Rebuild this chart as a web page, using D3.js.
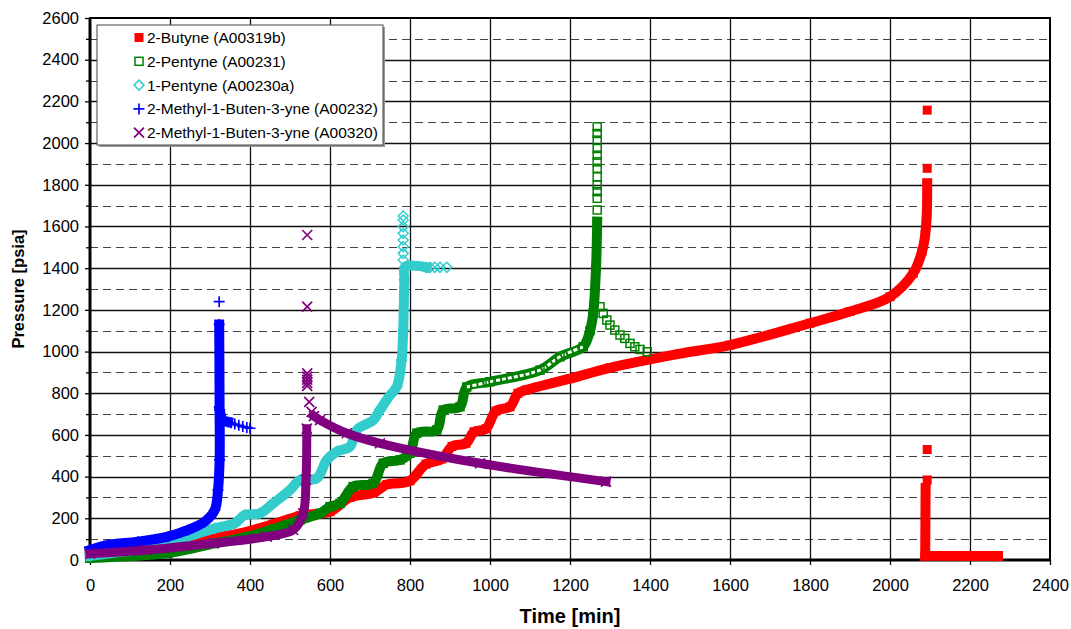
<!DOCTYPE html>
<html>
<head>
<meta charset="utf-8">
<script src="https://cdn.jsdelivr.net/npm/d3@7"></script>
<style>
  body { margin: 0; background: #fff; }
  svg { display: block; font-family: "Liberation Sans", Arial, sans-serif; }
</style>
</head>
<body>
<svg width="1071" height="629"></svg>
<script>
// axis ticks
var xTicks = [0, 200, 400, 600, 800, 1000, 1200, 1400, 1600, 1800, 2000, 2200, 2400];
var yTicks = [0, 200, 400, 600, 800, 1000, 1200, 1400, 1600, 1800, 2000, 2200, 2400, 2600];
var yMinor = [100, 300, 500, 700, 900, 1100, 1300, 1500, 1700, 1900, 2100, 2300, 2500];

// [time min, pressure psia] ; null breaks the dense trace
var butyneTrace = [[0,22],[100,42],[200,72],[300,105],[375,128],[458,172],[525,212],[600,232],[650,300],
  [708,322],[742,362],[770,368],[800,380],[840,460],[880,485],[905,545],[940,560],[960,615],[990,630],
  [1015,715],[1050,735],[1070,800],[1090,815],[1200,870],[1300,922],[1475,990],[1600,1031],[1800,1136],
  [1900,1192],[2000,1263],[2058,1375],[2080,1480],[2088,1560],[2092,1663],[2093,1807],
  null,[2089,345],[2088,20],null,[2088,20],[2270,19]];
var butyneSpots = [[2093,1879],[2093,2158],[2093,530],[2093,384]];

var pentyne2Trace = [[0,10],[195,33],[312,80],[395,112],[460,150],[525,192],[575,224],[600,256],[625,272],
  [658,352],[708,368],[733,464],[775,480],[800,512],[817,608],[867,624],[883,719],[925,735],[942,830],
  [1000,855],[1125,911],[1175,975],[1233,1023],[1250,1100],[1258,1183],[1265,1400],[1268,1623]];
var pentyne2Spots = [[1268,1679],[1268,1735],[1268,1767],[1268,1799],[1268,1838],[1268,1879],[1268,1910],
  [1268,1942],[1268,1974],[1268,2014],[1268,2046],[1268,2078],
  [1275,1215],[1283,1183],[1292,1151],[1300,1127],[1312,1103],[1325,1079],[1337,1063],[1350,1039],
  [1362,1023],[1375,1010],[1393,999]];

var pentyne1Trace = [[0,20],[100,45],[200,78],[245,112],[312,152],[362,176],[387,216],[425,224],[458,272],
  [500,336],[525,384],[567,392],[592,480],[617,520],[650,544],[667,624],[708,671],[725,720],[750,790],
  [767,831],[779,959],[783,1103],[786,1343],[788,1407],[840,1404]];
var pentyne1Spots = [[850,1404],[862,1404],[875,1404],[892,1404],
  [783,1439],[783,1471],[783,1503],[783,1535],[783,1567],[783,1599],[783,1631],[783,1650]];

var mb232Trace = [[0,48],[45,72],[120,88],[195,112],[245,144],[287,184],[312,240],[320,336],[324,480],
  [324,720],[323,1130],null,[324,720],[333,671],[345,662]];
var mb232Spots = [[323,1239],[322,2048],[352,658],[362,652],[372,646],[382,640],[392,636],[400,632]];

var mb320Trace = [[0,30],[142,48],[308,80],[442,112],[508,144],[533,224],[540,384],[542,630],
  null,[560,690],[575,671],[642,608],[725,560],[975,464],[1290,376]];
var mb320Spots = [[543,835],[543,850],[543,865],[543,880],[543,895],[543,1215],[543,1559],[548,759],[554,711]];

var names = ["2-Butyne (A00319b)", "2-Pentyne (A00231)", "1-Pentyne (A00230a)",
  "2-Methyl-1-Buten-3-yne (A00232)", "2-Methyl-1-Buten-3-yne (A00320)"];
var colors = ["#ff0000", "#008000", "#33cccc", "#0000ff", "#800080"];

var series = [
  { name: names[0], color: colors[0], trace: butyneTrace, spots: butyneSpots, mark: "fsquare", band: 10 },
  { name: names[1], color: colors[1], trace: pentyne2Trace, spots: pentyne2Spots, mark: "square", band: 10 },
  { name: names[2], color: colors[2], trace: pentyne1Trace, spots: pentyne1Spots, mark: "diamond", band: 10 },
  { name: names[3], color: colors[3], trace: mb232Trace, spots: mb232Spots, mark: "plus", band: 10 },
  { name: names[4], color: colors[4], trace: mb320Trace, spots: mb320Spots, mark: "cross", band: 9 }
];

var svg = d3.select("svg");
var margin = { top: 18, right: 21, bottom: 69, left: 90 };
var width = +svg.attr("width") - margin.left - margin.right;
var height = +svg.attr("height") - margin.top - margin.bottom;

var x = d3.scaleLinear().domain([0, 2400]).range([0, width]);
var y = d3.scaleLinear().domain([0, 2600]).range([height, 0]);

var g = svg.append("g")
  .attr("transform", "translate(" + margin.left + "," + margin.top + ")");

// minor dashed grid
g.append("g").selectAll("line")
  .data(yMinor).enter().append("line")
    .attr("x1", 0).attr("x2", width)
    .attr("y1", function(d) { return Math.round(y(d)) + 0.5; })
    .attr("y2", function(d) { return Math.round(y(d)) + 0.5; })
    .attr("stroke", "#444").attr("stroke-dasharray", "8,5");

// major grid
g.append("g").selectAll("line")
  .data(yTicks.slice(1, -1)).enter().append("line")
    .attr("x1", 0).attr("x2", width)
    .attr("y1", function(d) { return Math.round(y(d)) + 0.5; })
    .attr("y2", function(d) { return Math.round(y(d)) + 0.5; })
    .attr("stroke", "#111").attr("stroke-width", 1.3);
g.append("g").selectAll("line")
  .data(xTicks.slice(1, -1)).enter().append("line")
    .attr("y1", 0).attr("y2", height)
    .attr("x1", function(d) { return Math.round(x(d)) + 0.5; })
    .attr("x2", function(d) { return Math.round(x(d)) + 0.5; })
    .attr("stroke", "#111").attr("stroke-width", 1.3);

// frame
g.append("rect").attr("width", width).attr("height", height)
  .attr("fill", "none").attr("stroke", "#000").attr("stroke-width", 2);
g.append("line").attr("x1", 0).attr("x2", 0).attr("y1", 0).attr("y2", height)
  .attr("stroke", "#000").attr("stroke-width", 3);
g.append("line").attr("x1", 0).attr("x2", width).attr("y1", height).attr("y2", height)
  .attr("stroke", "#000").attr("stroke-width", 3);

// axes
g.append("g").call(d3.axisLeft(y).tickValues(yTicks).tickSize(5).tickPadding(6).tickFormat(d3.format("d")));
g.append("g").call(d3.axisLeft(y).tickValues(yMinor).tickSize(4).tickFormat(""));
g.append("g").attr("transform", "translate(0," + height + ")")
  .call(d3.axisBottom(x).tickValues(xTicks).tickSize(5).tickPadding(14).tickFormat(d3.format("d")));
g.selectAll(".domain").remove();
g.selectAll(".tick line").attr("stroke", "#000").attr("stroke-width", 1.3);
g.selectAll(".tick text").attr("font-size", 16.5).attr("fill", "#000")
  .attr("font-family", "Liberation Sans, Arial, sans-serif");

svg.append("text")
  .attr("transform", "translate(24," + (margin.top + height / 2) + ") rotate(-90)")
  .attr("text-anchor", "middle")
  .attr("font-size", 16.5).attr("font-weight", "bold")
  .text("Pressure [psia]");
svg.append("text")
  .attr("x", margin.left + width / 2).attr("y", 623)
  .attr("text-anchor", "middle")
  .attr("font-size", 20).attr("font-weight", "bold")
  .text("Time [min]");

// marker shapes
function drawMark(sel, type, color) {
  if (type === "fsquare") {
    sel.append("rect").attr("x", -4.5).attr("y", -4.5).attr("width", 9).attr("height", 9).attr("fill", color);
  } else if (type === "square") {
    sel.append("rect").attr("x", -4).attr("y", -4).attr("width", 8).attr("height", 8)
      .attr("fill", "none").attr("stroke", color).attr("stroke-width", 1.5);
  } else if (type === "diamond") {
    sel.append("path").attr("d", "M0,-5L5,0L0,5L-5,0Z")
      .attr("fill", "none").attr("stroke", color).attr("stroke-width", 1.5);
  } else if (type === "plus") {
    sel.append("path").attr("d", "M-5.5,0H5.5M0,-5.5V5.5")
      .attr("stroke", color).attr("stroke-width", 1.7);
  } else {
    sel.append("path").attr("d", "M-5,-5L5,5M-5,5L5,-5")
      .attr("stroke", color).attr("stroke-width", 1.7);
  }
}

// legend
var leg = svg.append("g").attr("transform", "translate(97,25)");
leg.append("rect").attr("x", 2).attr("y", 2).attr("width", 286).attr("height", 120).attr("fill", "#999");
leg.append("rect").attr("width", 286).attr("height", 120)
  .attr("fill", "#fff").attr("stroke", "#444").attr("stroke-width", 1);
series.forEach(function(s, i) {
  var row = leg.append("g").attr("transform", "translate(0," + (12.5 + i * 23.8) + ")");
  drawMark(row.append("g").attr("transform", "translate(42,0)"), s.mark, s.color);
  row.append("text").attr("x", 50).attr("dy", "0.35em")
    .attr("font-size", 15.5).attr("fill", "#000").text(s.name);
});

// series: dense marker trails as thick bands, sparse markers individually
var line = d3.line()
  .defined(function(d) { return d !== null; })
  .curve(d3.curveCatmullRom.alpha(0.5))
  .x(function(d) { return x(d[0]); })
  .y(function(d) { return y(d[1]); });

series.forEach(function(s) {
  var sg = g.append("g");
  sg.append("path")
    .attr("d", line(s.trace))
    .attr("fill", "none")
    .attr("stroke", s.color)
    .attr("stroke-width", s.band)
    .attr("stroke-linejoin", "round")
    .attr("stroke-linecap", "square");
  if (s.mark === "square") {
    // hollow look of the open squares where they are spread out
    var open = s.trace.filter(function(d) { return d && d[0] >= 942 && d[0] <= 1233; });
    sg.append("path")
      .attr("d", line(open))
      .attr("fill", "none")
      .attr("stroke", "#fff")
      .attr("stroke-width", 3)
      .attr("stroke-dasharray", "4,2");
  }
  sg.selectAll("g.pt")
    .data(s.trace.filter(function(d) { return d !== null; }).concat(s.spots))
    .enter().append("g").attr("class", "pt")
      .attr("transform", function(d) { return "translate(" + x(d[0]) + "," + y(d[1]) + ")"; })
      .each(function() { drawMark(d3.select(this), s.mark, s.color); });
});
</script>
</body>
</html>
